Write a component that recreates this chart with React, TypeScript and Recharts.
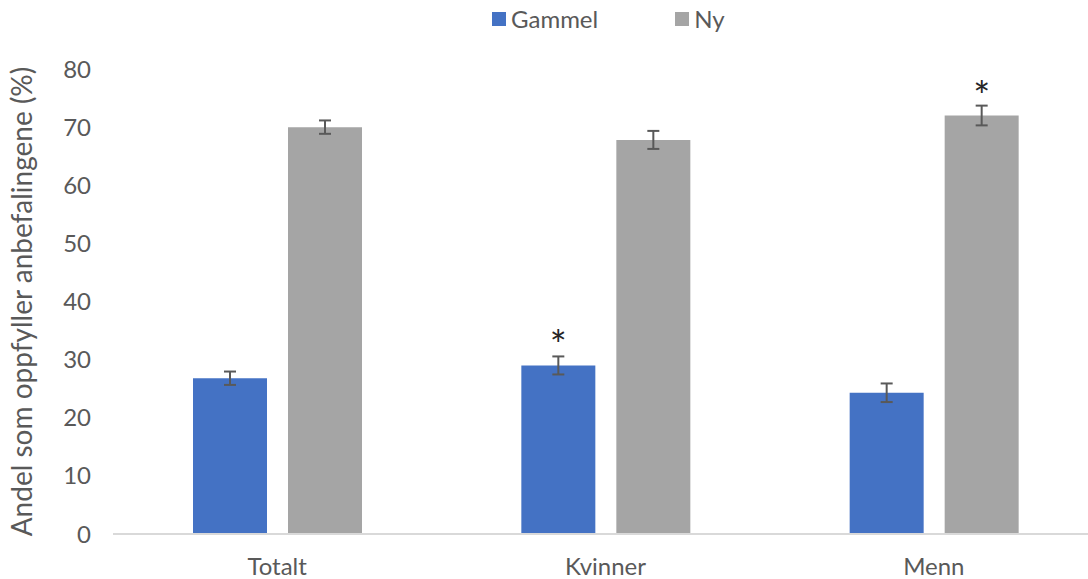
import { Bar, BarChart, ErrorBar, LabelList, XAxis, YAxis } from "recharts";

const categories = ["Totalt", "Kvinner", "Menn"];
const gammel = [26.8, 29.0, 24.3];
const ny = [70.0, 67.8, 72.0];
const gammelErr = [1.15, 1.55, 1.6];
const nyErr = [1.15, 1.55, 1.7];
const gammelSig = ["", "*", ""];
const nySig = ["", "", "*"];
const yTicks = [0, 10, 20, 30, 40, 50, 60, 70, 80];

const data = categories.map((name, i) => ({
  name,
  gammel: gammel[i],
  ny: ny[i],
  gammelErr: gammelErr[i],
  nyErr: nyErr[i],
  gammelSig: gammelSig[i],
  nySig: nySig[i],
}));

const series = [
  { key: "gammel", name: "Gammel", color: "#4472C4" },
  { key: "ny", name: "Ny", color: "#A5A5A5" },
];

const FONT = "Lato, 'Open Sans', sans-serif";
const TEXT = "#595959";

function Star(props: any) {
  const { x, y, width, value } = props;
  if (!value) return null;
  return (
    <text
      x={x + width / 2}
      y={y - 5}
      textAnchor="middle"
      fontSize={40}
      fontFamily={FONT}
      fill="#262626"
    >
      {value}
    </text>
  );
}

function TopLegend() {
  return (
    <div
      style={{
        position: "absolute",
        top: 4,
        left: 492,
        display: "flex",
        fontFamily: FONT,
        fontSize: 24,
        color: TEXT,
      }}
    >
      {series.map((s, i) => (
        <div
          key={s.key}
          style={{ display: "flex", alignItems: "center", marginRight: i === 0 ? 77 : 0 }}
        >
          <span style={{ width: 14, height: 14, background: s.color, marginRight: 5 }} />
          <span>{s.name}</span>
        </div>
      ))}
    </div>
  );
}

export default function App() {
  return (
    <div
      style={{
        position: "absolute",
        left: 0,
        top: 0,
        width: 1088,
        height: 579,
        overflow: "hidden",
        background: "#fff",
      }}
    >
      <BarChart
        width={1100}
        height={579}
        data={data}
        margin={{ top: 69, right: 2, bottom: 5, left: 0 }}
        barSize={74}
        barGap={21}
      >
        <XAxis
          dataKey="name"
          height={40}
          tickSize={0}
          tickMargin={24}
          axisLine={{ stroke: "#d9d9d9", strokeWidth: 2 }}
          tick={{ fontSize: 24, fill: TEXT, fontFamily: FONT }}
        />
        <YAxis
          width={113}
          domain={[0, 80]}
          ticks={yTicks}
          axisLine={false}
          tickLine={false}
          tickSize={0}
          tickMargin={22}
          tick={{ fontSize: 24, fill: TEXT, fontFamily: FONT }}
          label={{
            value: "Andel som oppfyller anbefalingene (%)",
            angle: -90,
            position: "insideLeft",
            dx: 17,
            style: { textAnchor: "middle", fontSize: 28, fill: TEXT, fontFamily: FONT },
          }}
        />
        {series.map((s) => (
          <Bar key={s.key} dataKey={s.key} name={s.name} fill={s.color} isAnimationActive={false}>
            <ErrorBar
              dataKey={`${s.key}Err`}
              width={6}
              strokeWidth={2}
              stroke="#595959"
              direction="y"
            />
            <LabelList dataKey={`${s.key}Sig`} content={<Star />} />
          </Bar>
        ))}
      </BarChart>
      <TopLegend />
    </div>
  );
}
